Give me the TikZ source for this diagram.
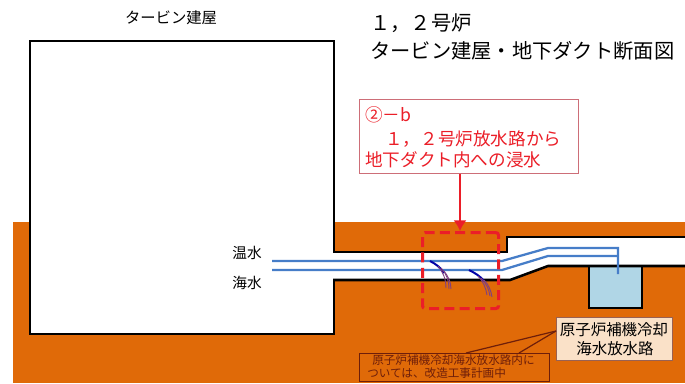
\documentclass[tikz,border=0pt]{standalone}
\usepackage{fontspec}
\setmainfont{Noto Sans CJK JP}
\usetikzlibrary{arrows.meta}
\definecolor{ground}{RGB}{224,106,8}
\definecolor{pipeblue}{RGB}{70,125,200}
\definecolor{pitblue}{RGB}{176,214,230}
\definecolor{alertred}{RGB}{235,30,40}
\definecolor{boxline}{RGB}{205,110,120}
\definecolor{notebrown}{RGB}{110,30,10}
\definecolor{beige}{RGB}{250,225,200}
\tikzset{
  x=0.75pt,y=-0.75pt,
  lbl/.style={inner sep=0pt,font=\fontsize{#1}{#1}\selectfont},
  duct/.style={draw=black,line width=1.9pt},
  pipe/.style={draw=pipeblue,line width=1.7pt},
  seep/.style={draw=violet!50!gray,line width=0.7pt},
  seepb/.style={draw=blue!65!black,line width=1.5pt}
}
\begin{document}
\begin{tikzpicture}
\useasboundingbox (0,0) rectangle (685,383);
\fill[white] (0,0) rectangle (685,383);
\fill[ground] (13,222) rectangle (685,383);
\node[draw=black,fill=white,line width=1.2pt,minimum width=228pt,minimum height=219.75pt,inner sep=0pt,anchor=north west] (bldg) at (29,40) {};
\fill[white] (333,252) -- (507,252) -- (507,237) -- (685,237) -- (685,266) -- (548,266) -- (510,280) -- (333,280) -- cycle;
\draw[duct,fill=pitblue] (589,266) -- (589,308) -- (642,308) -- (642,266);
\draw[duct] (333,252) -- (507,252) -- (507,237) -- (685,237);
\draw[duct] (333,280) -- (510,280) -- (548,266) -- (685,266);
\coordinate (pipeA) at (272,261);
\coordinate (pipeB) at (272,270);
\draw[pipe] (pipeA) -- (502,261) -- (548,248) -- (618,248) -- (618,274);
\draw[pipe] (pipeB) -- (502,270) -- (548,256) -- (618,256);
% seepage
\draw[seepb] (430,261) .. controls (436,264) and (441,268) .. (444,273);
\draw[seep] (438,266) .. controls (443,272) and (446,279) .. (446,288);
\draw[seep] (441,268) .. controls (446,273) and (449,280) .. (449,289);
\draw[seep] (444,271) .. controls (448,276) and (451,282) .. (451,289);
\draw[seepb] (469,270) .. controls (475,273) and (480,276) .. (484,281);
\draw[seep] (478,276) .. controls (483,281) and (486,288) .. (487,295);
\draw[seep] (481,278) .. controls (486,283) and (489,289) .. (490,296);
\draw[seep] (484,280) .. controls (489,285) and (491,291) .. (492,297);
\node[draw=alertred,rounded corners=2pt,dash pattern=on 7.5pt off 4pt,line width=2.3pt,minimum width=57pt,minimum height=57pt,inner sep=0pt,anchor=north west] (zone) at (421,231) {};
\node[draw=boxline,fill=white,line width=0.9pt,minimum width=164pt,minimum height=55.5pt,inner sep=0pt,anchor=north west] (callout) at (359,99) {};
\node[lbl=13.2,text=alertred,anchor=west] (t1) at (365,115) {②－b};
\node[lbl=13.2,text=alertred,anchor=west] (t2) at (385,139) {１，２号炉放水路から};
\node[lbl=13.2,text=alertred,anchor=west] (t3) at (365,160) {地下ダクト内への浸水};
\draw[alertred,line width=2pt,-{Latex[length=8pt,width=10pt]}] (callout.south -| 460,0) -- (zone.north -| 460,0);
\node[lbl=11.5,anchor=center] (bname) at (171,18) {タービン建屋};
\node[lbl=15.2,anchor=west] (h1) at (370,23) {１，２号炉};
\node[lbl=15.2,anchor=west] (h2) at (370,51) {タービン建屋・地下ダクト断面図};
\node[lbl=11,anchor=east] (warm) at (262,253) {温水};
\node[lbl=11,anchor=east] (sea) at (262,283) {海水};
\node[draw=notebrown,line width=0.9pt,minimum width=142.5pt,minimum height=21pt,inner sep=0pt,anchor=north west] (note) at (359,353) {};
\node[lbl=8.7,text=notebrown,anchor=west] (n1) at (372,360) {原子炉補機冷却海水放水路内に};
\node[lbl=8.7,text=notebrown,anchor=west] (n2) at (367,373) {ついては、改造工事計画中};
\node[draw=notebrown!70,fill=beige,line width=0.7pt,minimum width=87pt,minimum height=32pt,inner sep=0pt,anchor=north west] (plate) at (556,317) {};
\node[lbl=11.6,anchor=center] (p1) at (614,330) {原子炉補機冷却};
\node[lbl=11.6,anchor=center] (p2) at (615,349) {海水放水路};
\coordinate (na) at (466,353);
\coordinate (nb) at (519,353);
\draw[notebrown,line width=0.9pt] (plate.west |- 0,331) -- (na);
\draw[notebrown,line width=0.9pt] (plate.west |- 0,331) -- (nb);
\end{tikzpicture}
\end{document}
